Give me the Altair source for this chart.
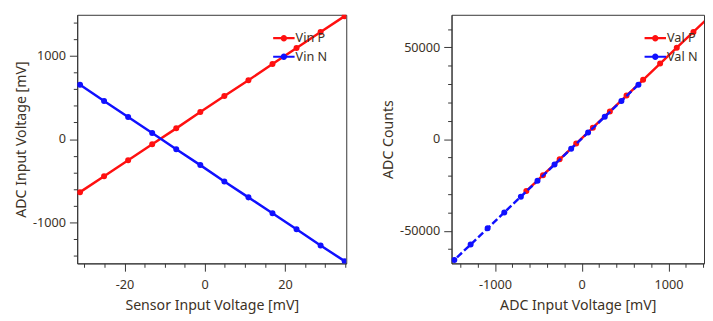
import altair as alt
import pandas as pd

# ---- data ----
sensor_mv = [-31.1, -25.1, -19.1, -13.1, -7.1, -1.1, 4.9, 10.9, 16.9, 22.9, 28.9, 34.9]
vin_p = [-638, -446, -254, -63, 129, 325, 517, 708, 904, 1096, 1288, 1479]
vin_n = [654, 458, 266, 74, -121, -313, -509, -701, -892, -1084, -1280, -1468]
val_p = [-28340, -19690, -11040, -2440, 6210, 15040, 23690, 32300, 41130, 49780, 58420, 67030]
val_n = [29650, 20820, 12180, 3530, -5250, -13890, -22720, -31370, -39970, -48610, -57440, -65900]

left_series = ["Vin P", "Vin N"]
right_series = ["Val P", "Val N"]
colors = ["#ff1010", "#1010ff"]

lp = pd.DataFrame({"sensor": sensor_mv, "adc_mv": vin_p, "series": "Vin P", "idx": range(len(vin_p))})
ln = pd.DataFrame({"sensor": sensor_mv, "adc_mv": vin_n, "series": "Vin N", "idx": range(len(vin_n))})
left_df = pd.concat([lp, ln], ignore_index=True)
rp = pd.DataFrame({"adc_mv": vin_p, "counts": val_p, "series": "Val P", "idx": range(len(vin_p))})
rn = pd.DataFrame({"adc_mv": vin_n, "counts": val_n, "series": "Val N", "idx": range(len(vin_n))})
right_df = pd.concat([rp, rn], ignore_index=True)

TEXT = "#3c3226"
FONT = "Noto Sans"
SYMBOL = ("M-1.57,-0.16L1.57,-0.16L1.57,0.16L-1.57,0.16Z "
          "M0.47,0A0.47,0.47,0,1,1,-0.47,0A0.47,0.47,0,1,1,0.47,0Z")


def axis(values, major, title):
    return alt.Axis(
        values=values,
        title=title,
        grid=False,
        labelExpr=f"datum.value % {major} === 0 ? '' + datum.value : ''",
        tickSize={"condition": {"test": f"datum.value % {major} === 0", "value": 8}, "value": 4},
        labelFlush=False,
        labelOverlap=False,
    )


def legend(x, y):
    return alt.Legend(
        title=None, orient="none", legendX=x, legendY=y,
        symbolType=SYMBOL, symbolSize=196, symbolStrokeWidth=0,
        symbolOpacity=1, labelOffset=5, rowPadding=5,
        labelFontSize=13, labelFont=FONT, labelColor=TEXT,
    )


def panel(df_p, df_n, df_all, x, y, names, lx, ly, width):
    cscale = alt.Scale(domain=names, range=colors)
    p_line = alt.Chart(df_p).mark_line(strokeWidth=2.5, clip=True, color=colors[0]).encode(
        x=x, y=y, order="idx:Q")
    n_kw = {"strokeDash": [7, 3]} if names[1] == "Val N" else {}
    n_line = alt.Chart(df_n).mark_line(strokeWidth=2.5, clip=True, color=colors[1], **n_kw).encode(
        x=x, y=y, order="idx:Q")
    pts = alt.Chart(df_all).mark_circle(size=38, opacity=1, clip=True).encode(
        x=x, y=y,
        color=alt.Color("series:N", scale=cscale, legend=legend(lx, ly)),
    )
    return alt.layer(
        p_line, pts.transform_filter(f"datum.series == '{names[0]}'"),
        n_line, pts.transform_filter(f"datum.series == '{names[1]}'"),
    ).properties(width=width, height=255)


# ---- left panel ----
lx = alt.X("sensor:Q", scale=alt.Scale(domain=[-31.8, 35.3], nice=False, zero=False),
           axis=axis(list(range(-30, 36, 5)), 20, "Sensor Input Voltage [mV]"))
ly = alt.Y("adc_mv:Q", scale=alt.Scale(domain=[-1495, 1495], nice=False),
           axis=axis(list(range(-1400, 1401, 200)), 1000, "ADC Input Voltage [mV]"))
left = panel(lp, ln, left_df, lx, ly, left_series, 205, 17, 276)

# ---- right panel ----
rx = alt.X("adc_mv:Q", scale=alt.Scale(domain=[-1500, 1410], nice=False, zero=False),
           axis=axis(list(range(-1400, 1401, 200)), 1000, "ADC Input Voltage [mV]"))
ry = alt.Y("counts:Q", scale=alt.Scale(domain=[-67730, 67730], nice=False),
           axis=axis(list(range(-60000, 60001, 10000)), 50000, "ADC Counts"))
right = panel(rp, rn, right_df, rx, ry, right_series, 202, 17, 259)

chart = alt.hconcat(left, right, spacing=34).resolve_scale(color="independent").properties(
    padding={"left": 5, "top": 2, "right": 0, "bottom": 0}
).configure_view(
    stroke="#333333", strokeWidth=1
).configure_axis(
    labelFont=FONT, titleFont=FONT, labelFontSize=13, titleFontSize=14.5,
    labelColor=TEXT, titleColor=TEXT, titleFontWeight="normal",
    domainColor="#333333", tickColor="#333333",
).configure_axisX(
    labelPadding=8, titlePadding=7, labelBaseline="top",
).configure_axisY(
    labelPadding=4, titlePadding=4,
)

chart.save("out.html", embed_options={"renderer": "svg", "actions": False})
